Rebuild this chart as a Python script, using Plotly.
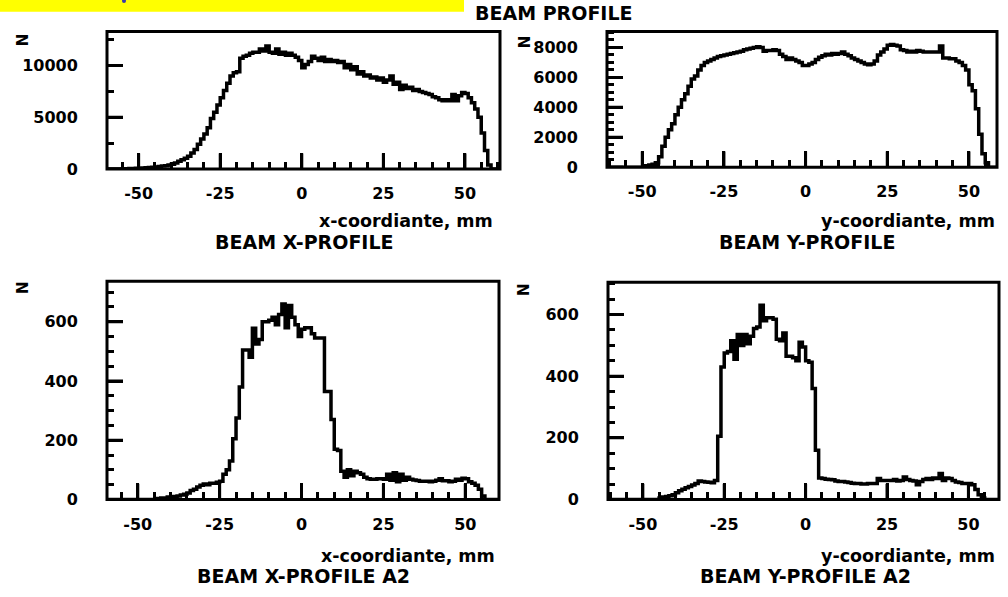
import plotly.graph_objects as go

W, H = 1008, 597

# ---------------- data ----------------
bin_edges = list(range(-60, 61))  # 1 mm bins, -60 .. 60

x_profile = [0, 0, 0, 0, 20, 30, 40, 50, 60, 80, 80, 100, 120, 150, 180, 200,
             250, 300, 330, 400, 480, 600, 750, 900, 1050, 1250, 1550, 1900, 2400, 2900,
             3400, 4000, 4900, 5500, 6200, 6900, 7600, 8300, 9000, 9300, 9400, 10700, 10900,
             11000, 11200, 11300, 11300, 11600, 11400, 11900, 11300, 11200, 11600, 11100,
             11300, 11000, 11200, 11000, 10800, 10500,
             9800, 10100, 10400, 10900, 10700, 10500, 10800, 10400, 10600, 10400, 10500,
             10300, 10400, 9800, 10100, 9600, 9900, 9200, 9400, 9000, 9100, 8800, 8900,
             8600, 8800, 8400, 8600, 9000, 8200, 8400, 7700, 8100, 7800, 7900, 7600, 7700,
             7500, 7400, 7300, 7200, 7000, 6900, 6700, 6600, 6700, 6600, 7200, 6600, 7100,
             7400, 7300, 6900, 6400, 5800, 5000, 3500, 1800, 400, 0, 0]

y_profile = [0] * 11 + [100, 150, 200, 300, 700, 1400, 2000, 2500, 2900, 3500, 4000, 4500,
             4900, 5400, 5900, 6100, 6500, 6800, 7000, 7100, 7200, 7300, 7400, 7450, 7500,
             7550, 7600, 7650, 7700, 7750, 7850, 7900, 7950, 8000, 8050, 8000, 7750, 7800,
             7800, 7850, 7800, 7550, 7400, 7200, 7300, 7200, 7100, 7000, 6800,
             6800, 6900, 7000, 7200, 7350, 7450, 7550, 7500, 7600, 7550, 7600, 7700, 7550,
             7450, 7300, 7200, 7100, 7000, 6900, 6850, 6900, 7100, 7500, 7700, 7900, 8150,
             8200, 8150, 8100, 7850, 7800, 7700, 7750, 7700, 7800, 7750, 7700, 7700, 7700,
             7700, 7700, 8100, 7300, 7300, 7250, 7250, 7100, 7000, 6800, 6500, 5500, 5100,
             3900, 2200, 900, 300] + [0] * 4

x_profile_a2 = [0] * 16 + [3, 5, 5, 8, 8, 10, 12, 15, 18, 22, 30, 35, 42, 48, 52, 50, 55,
                55, 58, 62, 85, 100, 130, 205, 275, 380, 505, 505, 480, 578, 525, 540, 600,
                600, 605, 615, 590, 625, 660, 580, 655, 615, 590, 550,
                575, 580, 580, 560, 545, 545, 545, 365, 365, 270, 170, 165, 95, 75, 100, 80,
                95, 90, 85, 75, 70, 68, 68, 70, 70, 68, 85, 65, 90, 60, 85, 65, 75, 68, 66,
                64, 62, 62, 62, 60, 62, 65, 70, 63, 63, 60, 62, 68, 65, 72, 70, 60, 55, 48,
                35, 12] + [0] * 4

y_profile_a2 = [0] * 15 + [5, 8, 10, 12, 15, 22, 28, 33, 38, 42, 47, 52, 60, 58, 57, 56,
                54, 62, 205, 430, 475, 480, 515, 455, 535, 500, 535, 505, 530, 555, 560,
                630, 580, 590, 590, 585, 520, 515, 540, 465, 465, 460, 450, 510, 495,
                450, 445, 360, 160, 70, 68, 66, 65, 64, 60, 58, 58, 57, 55, 53, 52, 52, 50,
                50, 52, 52, 52, 68, 62, 62, 62, 62, 65, 60, 62, 73, 65, 62, 60, 48, 58, 65,
                68, 65, 70, 68, 84, 62, 70, 68, 62, 57, 55, 52, 52, 52, 48, 32, 15, 5] + [0] * 5

x_tick_vals = [-50, -25, 0, 25, 50]
x_tick_text = ["-50", "-25", "0", "25", "50"]
y_ticks_profile_x = [0, 5000, 10000]
y_ticks_profile_y = [0, 2000, 4000, 6000, 8000]
y_ticks_a2 = [0, 200, 400, 600]

x_label_x = "x-coordiante, mm"
x_label_y = "y-coordiante, mm"
titles = ["BEAM X-PROFILE", "BEAM Y-PROFILE", "BEAM X-PROFILE A2", "BEAM Y-PROFILE A2"]
main_title = "BEAM PROFILE"

for s in (x_profile, y_profile, x_profile_a2, y_profile_a2):
    assert len(s) == len(bin_edges) - 1, len(s)


# ---------------- layout helpers ----------------
def px(x):
    return x / W


def py(y):
    return 1 - y / H


FONT = "DejaVu Sans"
BLACK = "#000000"
CLEAR = "rgba(0,0,0,0)"
MAJOR_LEN = 16  # px

panels = [
    dict(data=x_profile, box=(107, 500, 32, 172), xr=(-59.7, 60.75), yr=(0, 13300),
         yt=y_ticks_profile_x, ymin=2500, xl=x_label_x, xl_pos=(495, 225),
         title=titles[0], t_pos=(304, 246), n_pos=(23, 41)),
    dict(data=y_profile, box=(607, 997, 32, 170), xr=(-60.8, 58.6), yr=(0, 9070),
         yt=y_ticks_profile_y, ymin=500, xl=x_label_y, xl_pos=(997, 225),
         title=titles[1], t_pos=(807, 246), n_pos=(525, 43)),
    dict(data=x_profile_a2, box=(107, 499, 286, 508), xr=(-59.4, 60.3), yr=(0, 737),
         yt=y_ticks_a2, ymin=50, xl=x_label_x, xl_pos=(497, 565),
         title=titles[2], t_pos=(303, 586), n_pos=(23, 293)),
    dict(data=y_profile_a2, box=(608, 999, 287, 508), xr=(-60.7, 59.4), yr=(0, 705),
         yt=y_ticks_a2, ymin=50, xl=x_label_y, xl_pos=(997, 565),
         title=titles[3], t_pos=(805, 586), n_pos=(524, 295)),
]

fig = go.Figure()
annotations = []
shapes = [
    dict(type="rect", xref="paper", yref="paper", x0=0, x1=px(464), y0=py(12), y1=1,
         fillcolor="#ffff00", line=dict(width=0), layer="below"),
    dict(type="circle", xref="paper", yref="paper", x0=px(122), x1=px(126), y0=py(3), y1=py(-1),
         fillcolor="#3a3aa8", line=dict(width=0)),
]
layout_axes = {}

tickfont = dict(family=FONT, size=16, color=BLACK, weight="bold")
n = len(panels)

for i, p in enumerate(panels, start=1):
    xa = "x" if i == 1 else f"x{i}"
    ya = "y" if i == 1 else f"y{i}"
    ys = p["data"] + [p["data"][-1]]
    fig.add_trace(go.Scatter(x=bin_edges, y=ys, mode="lines",
                             line=dict(color=BLACK, width=3.5, shape="hv"),
                             xaxis=xa, yaxis=ya, showlegend=False, hoverinfo="skip"))
    x0, x1, y0, y1 = p["box"]
    xdom = [px(x0), px(x1)]
    ydom = [py(y1), py(y0)]

    # main axes: tick labels (transparent axis line keeps the label offsets)
    lab = dict(showgrid=False, zeroline=False, showline=True, linewidth=3, linecolor=CLEAR,
               mirror=False, ticks="inside", ticklen=MAJOR_LEN, tickwidth=3, tickcolor=BLACK,
               tickfont=tickfont)
    layout_axes["xaxis" if i == 1 else f"xaxis{i}"] = dict(
        domain=xdom, anchor=ya, range=list(p["xr"]),
        tickmode="array", tickvals=x_tick_vals, ticktext=x_tick_text,
        ticklabelstandoff=8, **lab)
    layout_axes["yaxis" if i == 1 else f"yaxis{i}"] = dict(
        domain=ydom, anchor=xa, range=list(p["yr"]),
        tickmode="array", tickvals=p["yt"], ticktext=[str(v) for v in p["yt"]],
        ticklabelstandoff=23, **lab)

    # overlay axes: short minor ticks, no labels
    idx = i + n
    xo, yo = f"x{idx}", f"y{idx}"
    tk = dict(showgrid=False, zeroline=False, showline=False, ticks="inside", ticklen=7,
              tickwidth=3, tickcolor=BLACK, showticklabels=False)
    fig.add_trace(go.Scatter(x=bin_edges, y=ys, mode="lines", line=dict(color=CLEAR, width=0),
                             xaxis=xo, yaxis=yo, showlegend=False, hoverinfo="skip"))
    layout_axes[f"xaxis{idx}"] = dict(domain=xdom, anchor=yo, overlaying=xa, range=list(p["xr"]),
                                      tickmode="linear", tick0=0, dtick=5, **tk)
    layout_axes[f"yaxis{idx}"] = dict(domain=ydom, anchor=xo, overlaying=ya, range=list(p["yr"]),
                                      tickmode="linear", tick0=0, dtick=p["ymin"], **tk)

    # long major ticks as short segments anchored to the axis domains
    xfrac = MAJOR_LEN / (y1 - y0)
    yfrac = MAJOR_LEN / (x1 - x0)
    for v in x_tick_vals:
        shapes.append(dict(type="line", xref=xa, yref=f"{ya} domain", x0=v, x1=v, y0=0, y1=xfrac,
                           line=dict(color=BLACK, width=3), layer="above"))
    for v in p["yt"]:
        shapes.append(dict(type="line", xref=f"{xa} domain", yref=ya, x0=0, x1=yfrac, y0=v, y1=v,
                           line=dict(color=BLACK, width=3), layer="above"))

    # panel frame
    shapes.append(dict(type="rect", xref=f"{xa} domain", yref=f"{ya} domain",
                       x0=0, x1=1, y0=0, y1=1, line=dict(color=BLACK, width=3),
                       fillcolor=CLEAR, layer="above"))

    annotations.append(dict(xref="paper", yref="paper", x=px(p["xl_pos"][0]), y=py(p["xl_pos"][1]),
                            xanchor="right", yanchor="middle", showarrow=False, text=p["xl"],
                            font=dict(family=FONT, size=17.5, color=BLACK, weight="bold")))
    annotations.append(dict(xref="paper", yref="paper", x=px(p["t_pos"][0]), y=py(p["t_pos"][1]),
                            xanchor="center", yanchor="middle", showarrow=False, text=p["title"],
                            font=dict(family=FONT, size=19, color=BLACK, weight="bold")))
    annotations.append(dict(xref="paper", yref="paper", x=px(p["n_pos"][0]), y=py(p["n_pos"][1]),
                            xanchor="center", yanchor="middle", showarrow=False, text="N",
                            textangle=-90,
                            font=dict(family=FONT, size=15, color=BLACK, weight="bold")))

annotations.append(dict(xref="paper", yref="paper", x=px(473), y=py(13), xanchor="left",
                        yanchor="middle", showarrow=False, text=main_title,
                        font=dict(family=FONT, size=19, color=BLACK, weight="bold")))

fig.update_layout(width=W, height=H, margin=dict(l=0, r=0, t=0, b=0),
                  paper_bgcolor="white", plot_bgcolor="white",
                  annotations=annotations, shapes=shapes, **layout_axes)

fig.write_html("out.html")
